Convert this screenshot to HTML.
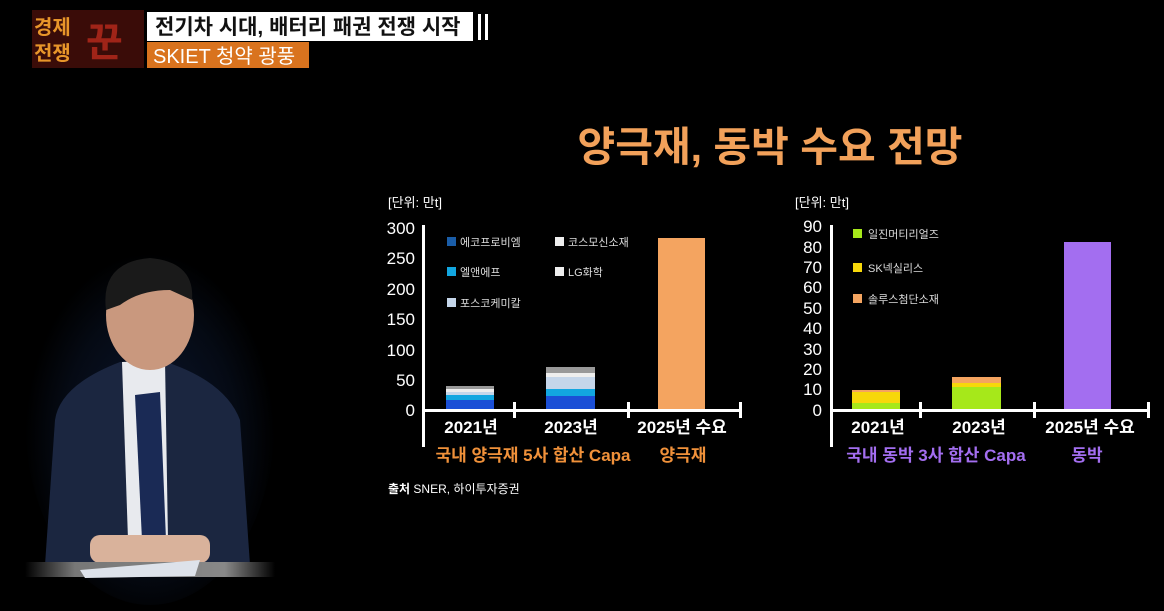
<!DOCTYPE html>
<html><head><meta charset="utf-8"><style>
html,body{margin:0;padding:0;background:#000;}
svg{display:block}
text{font-family:"Liberation Sans","Noto Sans CJK KR",sans-serif;}
</style></head><body>
<svg width="1164" height="611" viewBox="0 0 1164 611" xmlns="http://www.w3.org/2000/svg">
<defs>
<radialGradient id="bg" cx="0.5" cy="0.55" r="0.5">
<stop offset="0" stop-color="#0c1730"/><stop offset="0.7" stop-color="#050a14"/><stop offset="1" stop-color="#000"/>
</radialGradient>
<linearGradient id="desk" x1="0" x2="1"><stop offset="0" stop-color="#000"/><stop offset="0.2" stop-color="#777"/><stop offset="0.8" stop-color="#888"/><stop offset="1" stop-color="#000"/></linearGradient>
</defs>
<rect width="1164" height="611" fill="#000"/>
<!-- logo -->
<rect x="32" y="10" width="112" height="58" fill="#3a0c08"/>
<text x="34" y="34" font-size="20" font-weight="bold" fill="#e8962a">경제</text>
<text x="34" y="60" font-size="20" font-weight="bold" fill="#e8962a">전쟁</text>
<text x="86" y="56" font-size="40" font-weight="bold" fill="#a02418">꾼</text>
<!-- headline -->
<rect x="147" y="12" width="326" height="29" fill="#fff"/>
<text x="155" y="34" font-size="21" font-weight="bold" fill="#111">전기차 시대, 배터리 패권 전쟁 시작</text>
<rect x="478" y="14" width="3" height="26" fill="#fff"/><rect x="485" y="14" width="3" height="26" fill="#fff"/>
<rect x="147" y="42" width="162" height="26" fill="#d9731e"/>
<text x="153" y="63" font-size="20" fill="#fff">SKIET 청약 광풍</text>
<!-- person -->
<ellipse cx="150" cy="420" rx="125" ry="185" fill="url(#bg)"/>
<path d="M45 565 L55 420 Q60 385 120 362 L160 360 Q225 380 240 420 L250 565 Z" fill="#1b2640"/>
<path d="M122 362 L165 360 L168 540 L128 540 Z" fill="#e8eaee"/>
<path d="M135 395 L160 392 L166 540 L142 540 Z" fill="#1a2a55"/>
<ellipse cx="150" cy="315" rx="44" ry="55" fill="#c9987e"/>
<path d="M106 310 Q100 262 150 258 Q195 262 192 300 L170 290 Q140 290 120 305 Z" fill="#1a1a1a"/>
<rect x="90" y="535" width="120" height="28" rx="10" fill="#d9b29b"/>
<rect x="25" y="562" width="250" height="15" fill="url(#desk)"/>
<path d="M80 570 L200 560 L195 576 L85 578 Z" fill="#dde2ea"/>
<!-- title -->
<text x="770" y="161" font-size="41" font-weight="bold" fill="#f2a15a" text-anchor="middle">양극재, 동박 수요 전망</text>
<!-- left chart -->
<text x="388" y="207" font-size="13" fill="#fff">[단위: 만t]</text>
<g font-size="17" fill="#fff" text-anchor="end">
<text x="415" y="234">300</text><text x="415" y="264">250</text><text x="415" y="295">200</text><text x="415" y="325">150</text><text x="415" y="356">100</text><text x="415" y="386">50</text><text x="415" y="416">0</text>
</g>
<rect x="422" y="225" width="3" height="222" fill="#fff"/>
<rect x="422" y="409" width="320" height="3" fill="#fff"/>
<rect x="513" y="402" width="3" height="16" fill="#fff"/><rect x="627" y="402" width="3" height="16" fill="#fff"/><rect x="739" y="402" width="3" height="16" fill="#fff"/>
<rect x="446" y="400" width="48" height="9" fill="#1b4fd6"/>
<rect x="446" y="395" width="48" height="5" fill="#12a6e0"/>
<rect x="446" y="392" width="48" height="3" fill="#c5d6ea"/>
<rect x="446" y="389" width="48" height="3" fill="#eee"/>
<rect x="446" y="386" width="48" height="3" fill="#999"/>
<rect x="546" y="396" width="49" height="13" fill="#1b4fd6"/>
<rect x="546" y="389" width="49" height="7" fill="#12a6e0"/>
<rect x="546" y="377" width="49" height="12" fill="#c5d6ea"/>
<rect x="546" y="373" width="49" height="4" fill="#eee"/>
<rect x="546" y="367" width="49" height="6" fill="#999"/>
<rect x="658" y="238" width="47" height="171" fill="#f4a460"/>
<g font-size="11" fill="#ddd">
<rect x="447" y="237" width="9" height="9" fill="#1a5da8"/><text x="460" y="246">에코프로비엠</text>
<rect x="555" y="237" width="9" height="9" fill="#eee"/><text x="568" y="246">코스모신소재</text>
<rect x="447" y="267" width="9" height="9" fill="#12a6e0"/><text x="460" y="276">엘앤에프</text>
<rect x="555" y="267" width="9" height="9" fill="#eee"/><text x="568" y="276">LG화학</text>
<rect x="447" y="298" width="9" height="9" fill="#c5d6ea"/><text x="460" y="307">포스코케미칼</text>
</g>
<g font-size="17" font-weight="bold" fill="#fff" text-anchor="middle">
<text x="471" y="433">2021년</text><text x="571" y="433">2023년</text><text x="682" y="433">2025년 수요</text>
</g>
<g font-size="17" font-weight="bold" fill="#f0913a" text-anchor="middle">
<text x="533" y="461">국내 양극재 5사 합산 Capa</text><text x="683" y="461">양극재</text>
</g>
<text x="388" y="493" font-size="12" fill="#fff"><tspan font-weight="bold">출처</tspan> SNER, 하이투자증권</text>
<!-- right chart -->
<text x="795" y="207" font-size="13" fill="#fff">[단위: 만t]</text>
<g font-size="17" fill="#fff" text-anchor="end">
<text x="822" y="232">90</text><text x="822" y="253">80</text><text x="822" y="273">70</text><text x="822" y="293">60</text><text x="822" y="314">50</text><text x="822" y="334">40</text><text x="822" y="355">30</text><text x="822" y="375">20</text><text x="822" y="395">10</text><text x="822" y="416">0</text>
</g>
<rect x="830" y="225" width="3" height="222" fill="#fff"/>
<rect x="830" y="409" width="320" height="3" fill="#fff"/>
<rect x="919" y="402" width="3" height="16" fill="#fff"/><rect x="1033" y="402" width="3" height="16" fill="#fff"/><rect x="1147" y="402" width="3" height="16" fill="#fff"/>
<rect x="852" y="403" width="48" height="6" fill="#a6e81a"/>
<rect x="852" y="391" width="48" height="12" fill="#f7d80a"/>
<rect x="852" y="390" width="48" height="2" fill="#f4a460"/>
<rect x="952" y="387" width="49" height="22" fill="#a6e81a"/>
<rect x="952" y="383" width="49" height="4" fill="#f7d80a"/>
<rect x="952" y="377" width="49" height="6" fill="#f4a460"/>
<rect x="1064" y="242" width="47" height="167" fill="#a36ef0"/>
<g font-size="11" fill="#ddd">
<rect x="853" y="229" width="9" height="9" fill="#a6e81a"/><text x="868" y="238">일진머티리얼즈</text>
<rect x="853" y="263" width="9" height="9" fill="#f7d80a"/><text x="868" y="272">SK넥실리스</text>
<rect x="853" y="294" width="9" height="9" fill="#f4a460"/><text x="868" y="303">솔루스첨단소재</text>
</g>
<g font-size="17" font-weight="bold" fill="#fff" text-anchor="middle">
<text x="878" y="433">2021년</text><text x="979" y="433">2023년</text><text x="1090" y="433">2025년 수요</text>
</g>
<g font-size="17" font-weight="bold" fill="#a36ef0" text-anchor="middle">
<text x="936" y="461">국내 동박 3사 합산 Capa</text><text x="1087" y="461">동박</text>
</g>
</svg>
</body></html>
